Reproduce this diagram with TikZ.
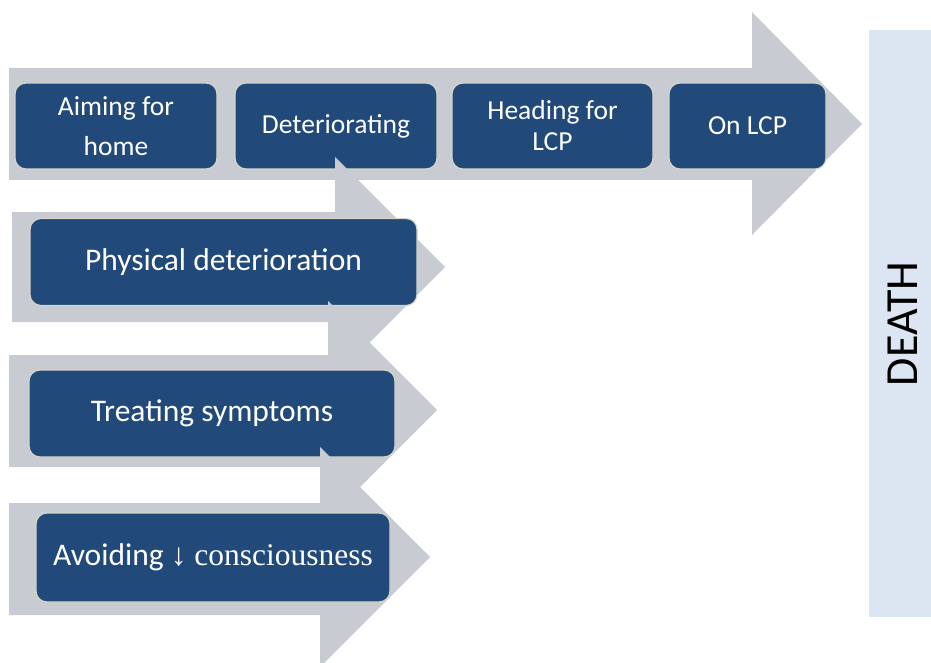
\documentclass[tikz,border=0pt]{standalone}
\usepackage{fontspec}
\usepackage{tikz}
\setsansfont{Carlito}
\newfontfamily\serifpart{Liberation Serif}
\definecolor{arrowgray}{RGB}{200,203,209}
\definecolor{boxblue}{RGB}{33,73,122}
\definecolor{boxline}{RGB}{214,214,200}
\definecolor{deathblue}{RGB}{220,230,242}
\begin{document}
\begin{tikzpicture}[x=1pt,y=-1pt,
    phase/.style={draw=boxline,line width=1.2pt,fill=boxblue,rounded corners=11pt,
      text=white,align=center,inner sep=0pt,minimum height=86pt,
      font=\sffamily\fontsize{27.5}{31}\selectfont},
    task/.style={phase,minimum height=87pt,font=\sffamily\fontsize{31.5}{35}\selectfont},
    bigarrow/.style={fill=arrowgray,draw=none}]
    \useasboundingbox (0,0) rectangle (931,663);
    \begin{scope}
      % main pathway
      \fill[bigarrow] (9,68) -- (752,68) -- (752,12) -- (862,124) -- (752,235)
        -- (752,180) -- (9,180) -- cycle;
      \node[phase,minimum width=202pt] (home) at (116,126) {Aiming for\\[9pt]home};
      \node[phase,minimum width=202pt] (det) at (336,126) {Deteriorating};
      \node[phase,minimum width=201pt] (head) at (552.5,126) {Heading for\\LCP};
      \node[phase,minimum width=157pt] (onlcp) at (747.5,126) {On LCP};
      % sub-steps
      \fill[bigarrow] (12,212) -- (335,212) -- (335,157) -- (445,267) -- (335,377)
        -- (335,322) -- (12,322) -- cycle;
      \node[task,minimum width=387pt] (phys) at (223.5,262) {Physical deterioration};
      \fill[bigarrow] (9,355) -- (328,355) -- (328,301) -- (437,410) -- (328,519)
        -- (328,467) -- (9,467) -- cycle;
      \node[task,minimum width=366pt] (treat) at (212,413.5) {Treating symptoms};
      \fill[bigarrow] (9,503) -- (320,503) -- (320,447) -- (430,557) -- (320,667)
        -- (320,615) -- (9,615) -- cycle;
      \node[task,minimum width=354pt,minimum height=89pt] (avoid) at (213,557.5)
        {Avoiding {\serifpart ↓ consciousness}};
      % end point
      \fill[deathblue] (869,30) rectangle (931,617);
      \node[rotate=90,font=\sffamily\fontsize{46}{50}\selectfont] (death) at (903,324) {DEATH};
    \end{scope}
\end{tikzpicture}
\end{document}
